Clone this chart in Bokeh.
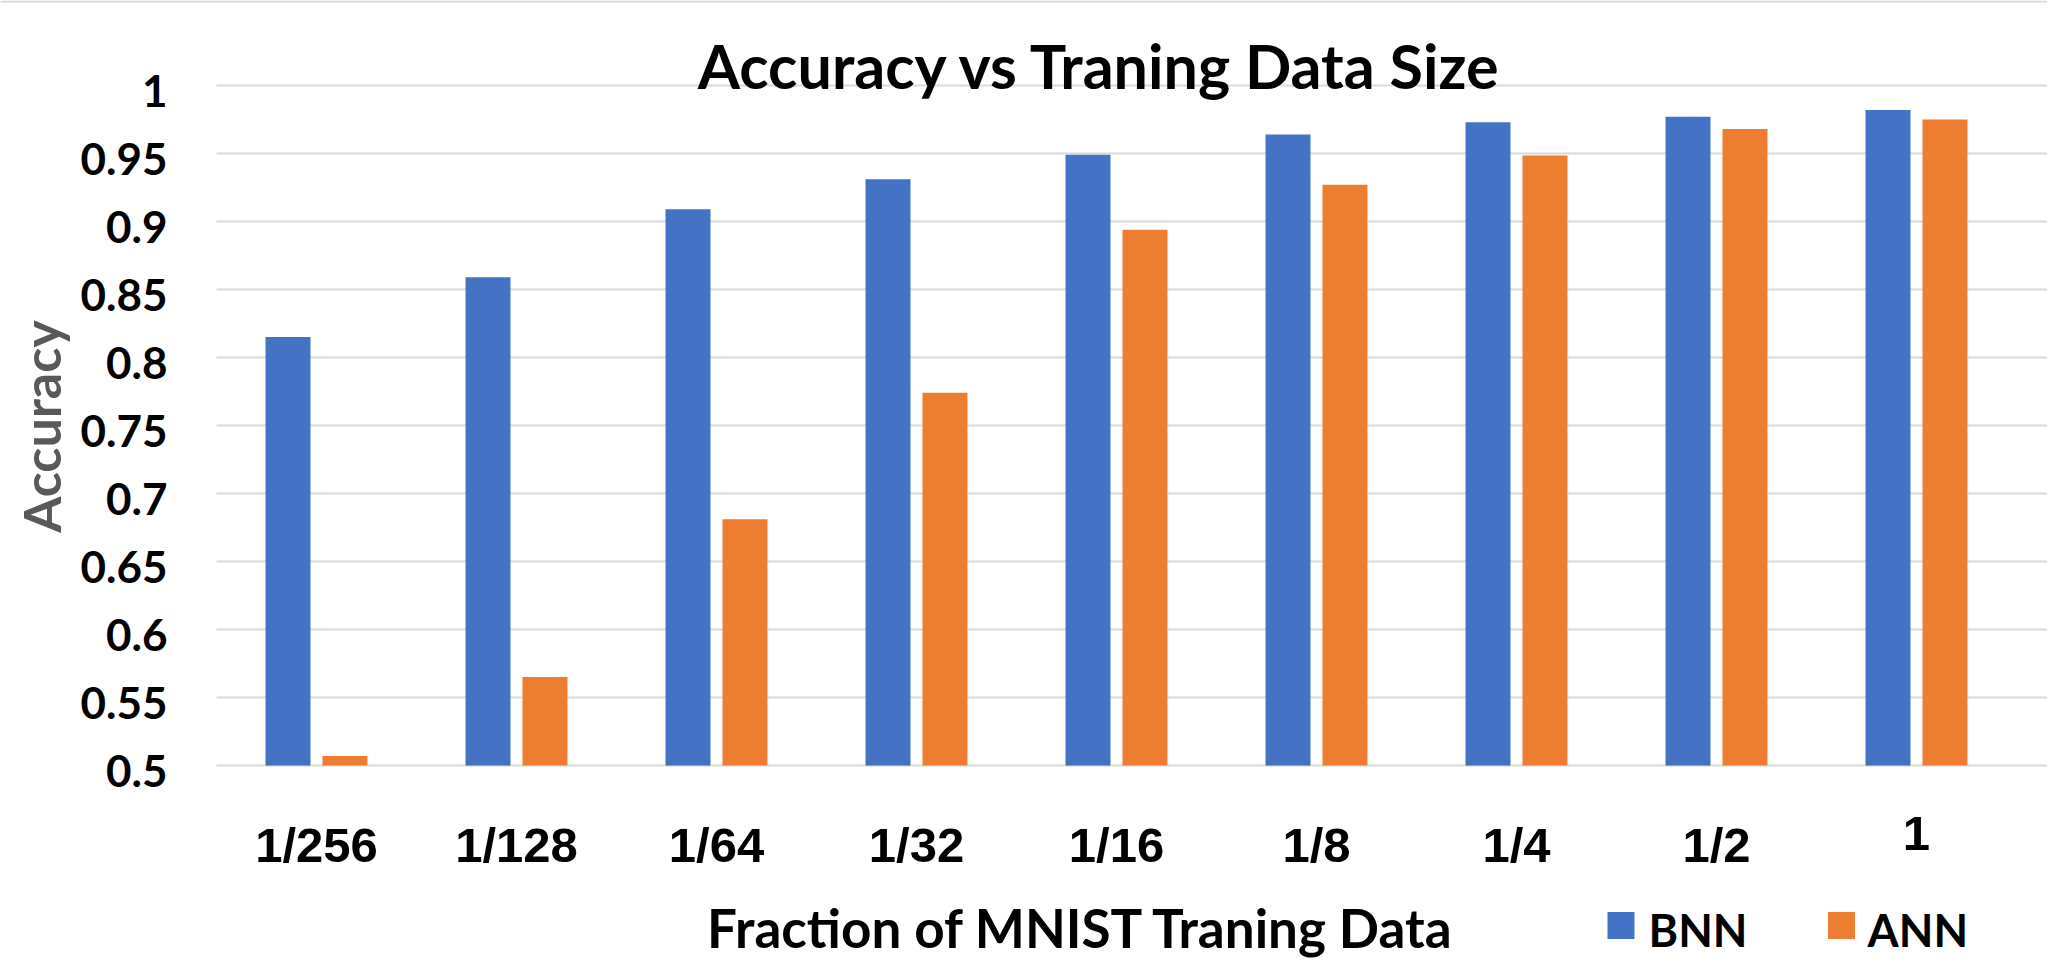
import math
from bokeh.plotting import figure
from bokeh.models import Range1d, ColumnDataSource, Label
from bokeh.core.properties import value
from bokeh.transform import dodge
from bokeh.embed import file_html
from bokeh.resources import INLINE

# ---- data ----
categories = ["1/256", "1/128", "1/64", "1/32", "1/16", "1/8", "1/4", "1/2", "1"]
bnn = [0.815, 0.859, 0.909, 0.931, 0.949, 0.964, 0.973, 0.977, 0.982]
ann = [0.507, 0.565, 0.681, 0.774, 0.894, 0.927, 0.9485, 0.968, 0.975]
y_ticks = [0.5, 0.55, 0.6, 0.65, 0.7, 0.75, 0.8, 0.85, 0.9, 0.95, 1.0]
y_tick_labels = ["0.5", "0.55", "0.6", "0.65", "0.7", "0.75", "0.8", "0.85", "0.9", "0.95", "1"]
series_names = ["BNN", "ANN"]
colors = ["#4472C4", "#ED7D31"]
title_text = "Accuracy vs Traning Data Size"
x_title = "Fraction of MNIST Traning Data"
y_title = "Accuracy"

# ---- layout helpers: canvas pixel -> data coordinates ----
PX_PER_CAT = 200.0    # pixels per category
PX_PER_UNIT = 1360.0  # pixels per 1.0 of accuracy
def px(cx):
    return (cx - 316) / PX_PER_CAT
def py(cy):
    return 0.5 + (765 - cy) / PX_PER_UNIT

W, H = 2047, 959
p = figure(width=W, height=H, output_backend="svg", toolbar_location=None,
           x_range=Range1d(px(0), px(W)), y_range=Range1d(py(H), py(0)),
           x_axis_type=None, y_axis_type=None, min_border=0)
p.outline_line_color = None
p.background_fill_color = "white"
p.border_fill_color = "white"

idx = list(range(len(categories)))
src = ColumnDataSource(dict(x=idx, bnn=bnn, ann=ann))

# top border line of the chart image
p.segment(x0=px(0), x1=px(W), y0=py(1), y1=py(1), line_color="#D9D9D9", line_width=2)

# horizontal gridlines (plot area starts at category -0.5)
p.segment(x0=-0.5, x1=px(W), y0=y_ticks, y1=y_ticks, line_color="#D9D9D9", line_width=2)

# bars
p.vbar(x=dodge("x", -0.1425, range=p.x_range), top="bnn", bottom=0.5, width=0.225,
       source=src, fill_color=colors[0], line_color=None)
p.vbar(x=dodge("x", 0.1425, range=p.x_range), top="ann", bottom=0.5, width=0.225,
       source=src, fill_color=colors[1], line_color=None)

# y tick labels
p.text(x=px(167), y=[t - 5 / PX_PER_UNIT for t in y_ticks], text=y_tick_labels,
       text_align="right", text_baseline="middle", text_font=value("Lato"),
       text_font_style="bold", text_font_size="44px", text_color="black")

# x tick labels (the last one sits a little higher in the reference)
p.text(x=idx[:-1], y=py(844), text=categories[:-1], text_align="center",
       text_baseline="middle", text_font=value("Liberation Sans"), text_font_style="bold",
       text_font_size="49px", text_color="black")
p.text(x=[idx[-1]], y=py(833), text=[categories[-1]], text_align="center",
       text_baseline="middle", text_font=value("Liberation Sans"), text_font_style="bold",
       text_font_size="49px", text_color="black")

# title
p.add_layout(Label(x=px(1100), y=py(65), text=title_text, text_align="center",
                   text_baseline="middle", text_font="Lato", text_font_style="bold",
                   text_font_size="61px", text_color="black"))
# x axis title
p.add_layout(Label(x=px(1081), y=py(927), text=x_title, text_align="center",
                   text_baseline="middle", text_font="Lato", text_font_style="bold",
                   text_font_size="53px", text_color="black"))
# y axis title
p.add_layout(Label(x=px(40), y=py(426), text=y_title, text_align="center",
                   text_baseline="middle", angle=math.pi / 2, text_font="Lato",
                   text_font_style="bold", text_font_size="52px", text_color="#595959"))

# legend (colour squares + names)
p.rect(x=[px(1620.5), px(1841)], y=py(925), width=27, height=27,
       width_units="screen", height_units="screen", fill_color=colors, line_color=None)
p.text(x=[px(1648), px(1867)], y=py(929), text=series_names, text_align="left",
       text_baseline="middle", text_font=value("Lato"), text_font_style="bold",
       text_font_size="45px", text_color="black")

open("out.html", "w").write(file_html(p, INLINE))
